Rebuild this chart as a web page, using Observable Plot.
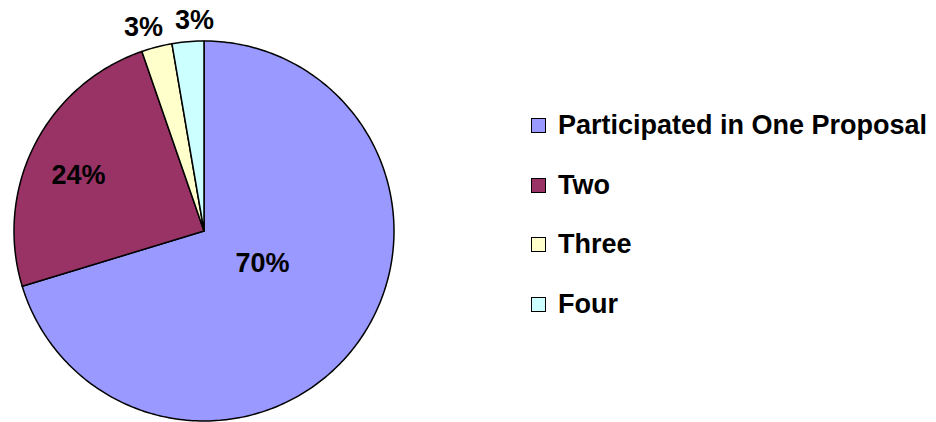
<!DOCTYPE html>
<html><head><meta charset="utf-8">
<script src="https://cdn.jsdelivr.net/npm/d3@7"></script>
<script src="https://cdn.jsdelivr.net/npm/@observablehq/plot@0.6"></script>
<style>
html,body{margin:0;padding:0;background:#fff;}
#wrap{position:relative;width:936px;height:422px;overflow:hidden;}
#legend{position:absolute;left:531px;top:118px;font-family:"Liberation Sans",Arial,sans-serif;font-weight:bold;font-size:27px;color:#000;}
.row{display:flex;align-items:flex-start;height:59.5px;}
.sw{width:15px;height:15px;box-sizing:border-box;border:1.3px solid #000;flex:none;}
.lab{margin-left:12px;line-height:15px;white-space:nowrap;}
</style></head><body><div id="wrap"></div>
<script>
const categories = ["Participated in One Proposal", "Two", "Three", "Four"];
const values = [70.3, 24.4, 2.6, 2.7];
const labels = ["70%", "24%", "3%", "3%"];
const colors = ["#9999FF", "#993366", "#FFFFCC", "#CCFFFF"];

// layout
const cx = 203.5, cy = 230.5, R = 190;
const labelR = [0.352, 0.723, 1.12, 1.11];
const nudge = [[4.7, -7.3], [-3, 6.4], [-7.5, 2], [8.4, 0]];

const arcs = d3.pie().sort(null).value(d => d)(values);
const poly = [];
arcs.forEach((a, i) => {
  const cat = categories[i];
  poly.push({cat, x: 0, y: 0});
  const n = Math.max(2, Math.ceil((a.endAngle - a.startAngle) / (2 * Math.PI) * 360));
  for (let k = 0; k <= n; k++) {
    const t = a.startAngle + (a.endAngle - a.startAngle) * k / n;
    poly.push({cat, x: Math.sin(t), y: Math.cos(t)});
  }
  poly.push({cat, x: 0, y: 0});
});

const textMarks = arcs.map((a, i) => {
  const m = (a.startAngle + a.endAngle) / 2;
  const d = {text: labels[i], x: Math.sin(m) * labelR[i], y: Math.cos(m) * labelR[i]};
  return Plot.text([d], {
    x: "x", y: "y", text: "text",
    fontSize: 27, fontWeight: "bold", fontFamily: "Liberation Sans, Arial, sans-serif",
    fill: "#000", dx: nudge[i][0], dy: nudge[i][1]
  });
});

const chart = Plot.plot({
  width: 936, height: 422, margin: 0,
  style: {background: "#fff"},
  x: {domain: [-1, 1], range: [cx - R, cx + R], axis: null},
  y: {domain: [-1, 1], range: [cy + R, cy - R], axis: null},
  color: {domain: categories, range: colors},
  marks: [
    Plot.line(poly, {x: "x", y: "y", z: "cat", fill: "cat", stroke: "#000", strokeWidth: 1.5, strokeLinejoin: "round", curve: "linear"}),
    ...textMarks
  ]
});

const wrap = document.getElementById("wrap");
wrap.appendChild(chart);
const legend = document.createElement("div");
legend.id = "legend";
categories.forEach((c, i) => {
  const row = document.createElement("div");
  row.className = "row";
  const sw = document.createElement("div");
  sw.className = "sw";
  sw.style.background = colors[i];
  const lab = document.createElement("span");
  lab.className = "lab";
  lab.textContent = c;
  row.appendChild(sw);
  row.appendChild(lab);
  legend.appendChild(row);
});
wrap.appendChild(legend);
</script></body></html>
